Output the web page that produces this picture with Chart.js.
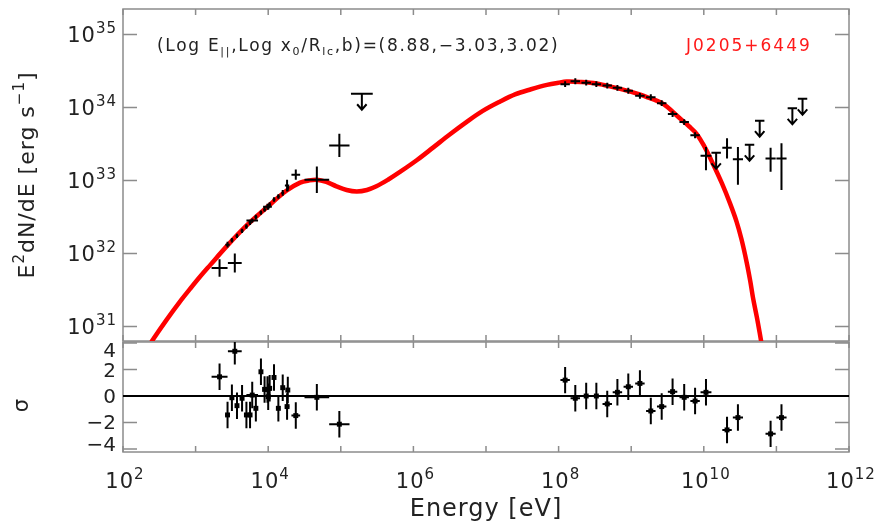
<!DOCTYPE html>
<html>
<head>
<meta charset="utf-8">
<title>J0205+6449 SED</title>
<script src="https://cdn.jsdelivr.net/npm/chart.js@4.4.1/dist/chart.umd.min.js"></script>
<style>
  html, body { margin: 0; padding: 0; background: #fff; }
  #wrap { position: relative; width: 879px; height: 525px; }
  #wrap canvas { position: absolute; left: 0; top: 0; }
</style>
</head>
<body>
<div id="wrap">
  <canvas id="sedChart" width="879" height="525"></canvas>
  <canvas id="resChart" width="879" height="525"></canvas>
</div>
<script>
// values are log10(E / eV) and log10(E^2 dN/dE / erg s^-1)
var xrayLogE = [3.33, 3.44, 3.50, 3.54, 3.57, 3.64, 3.70, 3.75, 3.78, 3.83, 3.90, 3.95, 3.99, 4.00, 4.02, 4.08, 4.14, 4.20, 4.26, 4.27, 4.38, 4.67, 4.98];
var xrayLogF = [31.80, 32.12, 32.18, 31.87, 32.24, 32.31, 32.37, 32.42, 32.45, 32.50, 32.56, 32.60, 32.64, 32.63, 32.67, 32.74, 32.78, 32.83, 32.93, 32.90, 33.08, 33.01, 33.48];
var xrayHalfBin = [0.11, 0.03, 0.02, 0.095, 0.02, 0.02, 0.02, 0.02, 0.08, 0.02, 0.02, 0.02, 0.06, 0.02, 0.02, 0.02, 0.02, 0.02, 0.03, 0.02, 0.06, 0.17, 0.14];
var xrayErr = [0.12, 0.04, 0.03, 0.13, 0.03, 0.03, 0.03, 0.03, 0.03, 0.03, 0.03, 0.03, 0.04, 0.03, 0.03, 0.03, 0.03, 0.04, 0.08, 0.04, 0.07, 0.18, 0.16];
var xrayRes = [1.45, -1.43, -0.13, 3.38, -0.73, -0.17, -1.43, -1.43, 0.07, -0.93, 1.83, 0.5, 0.5, -0.05, 0.58, 1.4, -0.93, 0.63, -0.8, 0.45, -1.48, -0.1, -2.13];
var xrayResErr = [1, 1, 1, 1, 1, 1, 1, 1, 1, 1, 1, 1, 1, 1, 1, 1, 1, 1, 1, 1, 1, 1, 1];

var latLogE = [8.09, 8.23, 8.38, 8.52, 8.67, 8.81, 8.96, 9.12, 9.27, 9.42, 9.57, 9.73, 9.88, 10.03, 10.32, 10.47, 10.92, 11.07];
var latLogF = [34.32, 34.36, 34.34, 34.32, 34.30, 34.27, 34.23, 34.16, 34.14, 34.06, 33.91, 33.80, 33.62, 33.34, 33.45, 33.29, 33.30, 33.30];
var latHalfBin = [0.065, 0.065, 0.065, 0.065, 0.065, 0.065, 0.065, 0.065, 0.065, 0.065, 0.065, 0.065, 0.065, 0.075, 0.065, 0.07, 0.07, 0.07];
var latErrUp = [0.04, 0.04, 0.04, 0.04, 0.04, 0.04, 0.04, 0.04, 0.04, 0.04, 0.04, 0.04, 0.04, 0.12, 0.13, 0.17, 0.15, 0.21];
var latErrDn = [0.04, 0.04, 0.04, 0.04, 0.04, 0.04, 0.04, 0.04, 0.04, 0.04, 0.04, 0.04, 0.04, 0.20, 0.15, 0.35, 0.18, 0.43];
var latRes = [1.2, -0.17, 0.0, 0.0, -0.6, 0.28, 0.7, 0.95, -1.13, -0.8, 0.33, -0.1, -0.38, 0.28, -2.56, -1.63, -2.86, -1.63];
var latResErr = [1, 1, 1, 1, 1, 1, 1, 1, 1, 1, 1, 1, 1, 1, 1, 1, 1, 1];

// upper limits
var ulLogE = [5.29, 10.17, 10.63, 10.77, 11.22, 11.36];
var ulLogF = [34.19, 33.38, 33.49, 33.82, 33.99, 34.12];
var ulHalfBin = [0.15, 0.065, 0.065, 0.065, 0.065, 0.065];

// model curve
var modelLogE = [2.30, 2.42, 2.60, 2.80, 2.92, 3.06, 3.20, 3.43, 3.70, 3.98, 4.25, 4.44, 4.56, 4.67, 4.80, 4.94, 5.08, 5.22, 5.36, 5.49, 5.65, 5.82, 6.05, 6.27, 6.50, 6.73, 6.95, 7.19, 7.40, 7.62, 7.84, 8.00, 8.11, 8.30, 8.52, 8.75, 8.98, 9.20, 9.44, 9.65, 9.80, 9.90, 10.00, 10.13, 10.25, 10.36, 10.45, 10.52, 10.59, 10.64, 10.68, 10.73, 10.77, 10.85];
var modelLogF = [30.64, 30.83, 31.09, 31.36, 31.51, 31.68, 31.84, 32.10, 32.38, 32.63, 32.86, 32.97, 33.00, 33.01, 32.98, 32.92, 32.87, 32.85, 32.87, 32.92, 33.01, 33.12, 33.28, 33.45, 33.63, 33.80, 33.95, 34.08, 34.18, 34.25, 34.31, 34.34, 34.355, 34.35, 34.33, 34.28, 34.22, 34.15, 34.05, 33.87, 33.74, 33.64, 33.48, 33.22, 32.96, 32.69, 32.44, 32.19, 31.88, 31.62, 31.38, 31.13, 30.91, 30.45];

// axes
var xTickDecades = [2, 3, 4, 5, 6, 7, 8, 9, 10, 11, 12];
var xLabelDecades = [2, 4, 6, 8, 10, 12];
var sedTickDecades = [31, 32, 33, 34, 35];
var resTicks = [-4, -2, 0, 2, 4];

// look
var FONT = '"DejaVu Sans", "Liberation Sans", sans-serif';
var TEXT = '#222';
var FRAME = '#8c8c8c';
var UL_DROP = 0.22, ARROW_DX = 0.065, ARROW_DY = 0.075;

function pt(le, lf) { return {x: Math.pow(10, le), y: Math.pow(10, lf)}; }
function gap(le) { return {x: Math.pow(10, le), y: null}; }

function crossBars(logE, logF, halfBin, up, dn) {
  var out = [];
  for (var i = 0; i < logE.length; i++) {
    out.push(pt(logE[i] - halfBin[i], logF[i]), pt(logE[i] + halfBin[i], logF[i]), gap(logE[i]));
    out.push(pt(logE[i], logF[i] - dn[i]), pt(logE[i], logF[i] + up[i]), gap(logE[i]));
  }
  return out;
}

function upperLimits(logE, logF, halfBin) {
  var out = [];
  for (var i = 0; i < logE.length; i++) {
    var e = logE[i], f = logF[i], tip = f - UL_DROP;
    out.push(pt(e - halfBin[i], f), pt(e + halfBin[i], f), gap(e));
    out.push(pt(e, f), pt(e, tip), gap(e));
    out.push(pt(e - ARROW_DX, tip + ARROW_DY), pt(e, tip), pt(e + ARROW_DX, tip + ARROW_DY), gap(e));
  }
  return out;
}

function resBars(logE, res, halfBin, err) {
  var out = [];
  for (var i = 0; i < logE.length; i++) {
    var x = Math.pow(10, logE[i]);
    out.push({x: Math.pow(10, logE[i] - halfBin[i]), y: res[i]}, {x: Math.pow(10, logE[i] + halfBin[i]), y: res[i]}, {x: x, y: null});
    out.push({x: x, y: res[i] - err[i]}, {x: x, y: res[i] + err[i]}, {x: x, y: null});
  }
  return out;
}

function resPoints(logE, res) {
  return logE.map(function(e, i) { return {x: Math.pow(10, e), y: res[i]}; });
}

function setFont(ctx, size) { ctx.font = size + 'px ' + FONT; }

function drawRich(ctx, parts, x, y, align) {
  var w = 0;
  parts.forEach(function(p) { setFont(ctx, p.size); w += ctx.measureText(p.t).width; });
  var cx = align === 'right' ? x - w : (align === 'center' ? x - w / 2 : x);
  ctx.textAlign = 'left';
  ctx.textBaseline = 'alphabetic';
  parts.forEach(function(p) {
    setFont(ctx, p.size);
    ctx.fillText(p.t, cx, y + (p.dy || 0));
    cx += ctx.measureText(p.t).width;
  });
}

function spacing(ctx, px) { if ('letterSpacing' in ctx) ctx.letterSpacing = px + 'px'; }

function powLabel(exp) {
  return [{t: '10', size: 21}, {t: String(exp), size: 15, dy: -9}];
}

function drawFrame(chart, yValues, xLen, yLen) {
  var ctx = chart.ctx, a = chart.chartArea, xs = chart.scales.x, ys = chart.scales.y;
  ctx.save();
  ctx.strokeStyle = FRAME;
  ctx.lineWidth = 1.5;
  ctx.strokeRect(a.left, a.top, a.right - a.left, a.bottom - a.top);
  ctx.beginPath();
  xTickDecades.forEach(function(d) {
    var px = xs.getPixelForValue(Math.pow(10, d));
    ctx.moveTo(px, a.top); ctx.lineTo(px, a.top + xLen);
    ctx.moveTo(px, a.bottom); ctx.lineTo(px, a.bottom - xLen);
  });
  yValues.forEach(function(v) {
    var py = ys.getPixelForValue(v);
    ctx.moveTo(a.left, py); ctx.lineTo(a.left + yLen, py);
    ctx.moveTo(a.right, py); ctx.lineTo(a.right - yLen, py);
  });
  ctx.stroke();
  ctx.restore();
}

var sedDecor = {
  id: 'sedDecor',
  beforeDatasetsDraw: function(chart) {
    drawFrame(chart, sedTickDecades.map(function(d) { return Math.pow(10, d); }), 6, 14);
  },
  afterDraw: function(chart) {
    var ctx = chart.ctx, a = chart.chartArea;
    ctx.save();
    ctx.fillStyle = TEXT;
    spacing(ctx, 1);
    sedTickDecades.forEach(function(d) {
      var py = chart.scales.y.getPixelForValue(Math.pow(10, d));
      drawRich(ctx, powLabel(d), a.left - 6, py + 7.5, 'right');
    });
    spacing(ctx, 1.7);
    drawRich(ctx, [
      {t: '(Log E', size: 17}, {t: '||', size: 11, dy: 4},
      {t: ',Log x', size: 17}, {t: '0', size: 11, dy: 4},
      {t: '/R', size: 17}, {t: 'lc', size: 11, dy: 4},
      {t: ',b)=(8.88,\u22123.03,3.02)', size: 17}
    ], 157, 51, 'left');
    spacing(ctx, 2);
    ctx.fillStyle = '#ff1a1a';
    drawRich(ctx, [{t: 'J0205+6449', size: 17}], 686, 51, 'left');
    ctx.fillStyle = TEXT;
    spacing(ctx, 1);
    ctx.translate(26, (a.top + a.bottom) / 2);
    ctx.rotate(-Math.PI / 2);
    drawRich(ctx, [
      {t: 'E', size: 22}, {t: '2', size: 15, dy: -10},
      {t: 'dN/dE [erg s', size: 22}, {t: '\u22121', size: 15, dy: -10},
      {t: ']', size: 22}
    ], 0, 8, 'center');
    ctx.restore();
  }
};

var resDecor = {
  id: 'resDecor',
  beforeDatasetsDraw: function(chart) {
    drawFrame(chart, resTicks, 6, 14);
  },
  afterDraw: function(chart) {
    var ctx = chart.ctx, a = chart.chartArea;
    ctx.save();
    ctx.fillStyle = TEXT;
    resTicks.forEach(function(v) {
      var py = chart.scales.y.getPixelForValue(v);
      py = Math.min(Math.max(py, a.top + 8), a.bottom - 8);
      drawRich(ctx, [{t: v < 0 ? '\u2212' + (-v) : String(v), size: 20}], a.left - 7, py + 7, 'right');
    });
    spacing(ctx, 1);
    xLabelDecades.forEach(function(d) {
      var px = chart.scales.x.getPixelForValue(Math.pow(10, d));
      drawRich(ctx, powLabel(d), px + 2, 488, 'center');
    });
    drawRich(ctx, [{t: 'Energy [eV]', size: 24}], (a.left + a.right) / 2, 516, 'center');
    ctx.translate(21, 405);
    ctx.rotate(-Math.PI / 2);
    drawRich(ctx, [{t: '\u03c3', size: 21}], 0, 7, 'center');
    ctx.restore();
  }
};

function barSet(data, order) {
  return {data: data, showLine: true, spanGaps: false, borderColor: '#000', borderWidth: 2,
          pointRadius: 0, order: order, clip: 0};
}

new Chart(document.getElementById('sedChart'), {
  type: 'scatter',
  data: {
    datasets: [
      barSet(crossBars(xrayLogE, xrayLogF, xrayHalfBin, xrayErr, xrayErr), 1),
      barSet(crossBars(latLogE, latLogF, latHalfBin, latErrUp, latErrDn), 1),
      barSet(upperLimits(ulLogE, ulLogF, ulHalfBin), 1),
      {
        data: modelLogE.map(function(e, i) { return pt(e, modelLogF[i]); }),
        showLine: true, borderColor: '#ff0000', borderWidth: 4.5, pointRadius: 0,
        tension: 0.35, order: 2, clip: 0
      }
    ]
  },
  options: {
    responsive: false, animation: false, events: [], devicePixelRatio: 1,
    layout: {padding: {left: 123, right: 30, top: 9, bottom: 184}},
    plugins: {legend: {display: false}, tooltip: {enabled: false}},
    scales: {
      x: {type: 'logarithmic', min: 1e2, max: 1e12, display: false},
      y: {type: 'logarithmic', min: Math.pow(10, 30.8), max: Math.pow(10, 35.35), display: false}
    }
  },
  plugins: [sedDecor]
});

new Chart(document.getElementById('resChart'), {
  type: 'scatter',
  data: {
    datasets: [
      {data: resPoints(xrayLogE, xrayRes).concat(resPoints(latLogE, latRes)),
       pointStyle: 'rect', pointRadius: 3.5, backgroundColor: '#000', borderColor: '#000', borderWidth: 0, order: 1, clip: 0},
      barSet(resBars(xrayLogE, xrayRes, xrayHalfBin, xrayResErr), 2),
      barSet(resBars(latLogE, latRes, latHalfBin, latResErr), 2),
      barSet([{x: 1e2, y: 0}, {x: 1e12, y: 0}], 3)
    ]
  },
  options: {
    responsive: false, animation: false, events: [], devicePixelRatio: 1,
    layout: {padding: {left: 123, right: 30, top: 342, bottom: 73}},
    plugins: {legend: {display: false}, tooltip: {enabled: false}},
    scales: {
      x: {type: 'logarithmic', min: 1e2, max: 1e12, display: false},
      y: {type: 'linear', min: -4.23, max: 4.08, display: false}
    }
  },
  plugins: [resDecor]
});
</script>
</body>
</html>
